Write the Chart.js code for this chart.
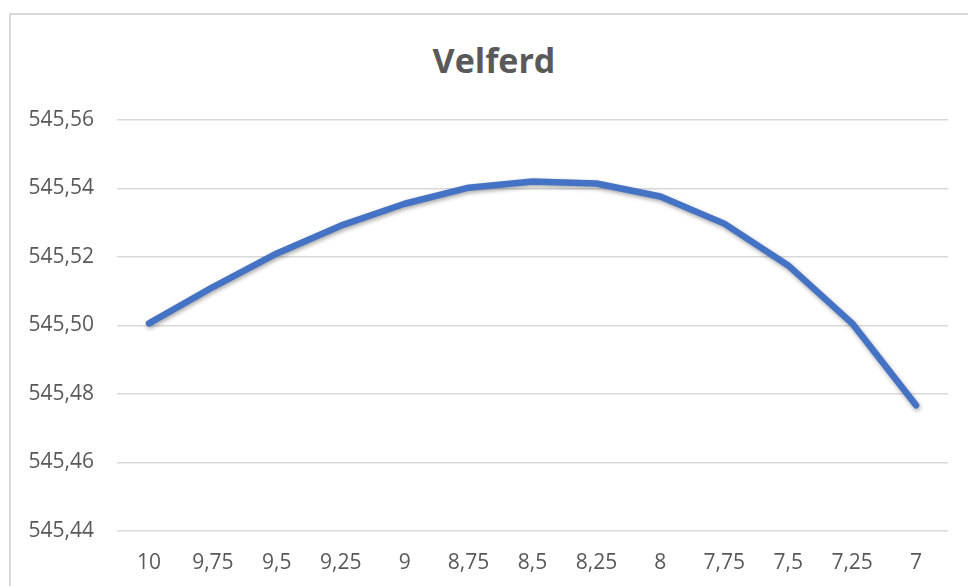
<!DOCTYPE html>
<html>
<head>
<meta charset="utf-8">
<script src="https://cdn.jsdelivr.net/npm/chart.js@4.4.1/dist/chart.umd.min.js"></script>
<style>
  html, body { margin: 0; padding: 0; background: #fff; overflow: hidden; }
  #frame {
    position: absolute; left: 9px; top: 13px; width: 1100px; height: 700px;
    border-left: 2px solid #d9d9d9; border-top: 2px solid #d9d9d9;
  }
  #wrap { position: absolute; left: 0; top: 0; width: 968px; height: 586px; }
  #title {
    position: absolute; left: 344px; top: 40px; width: 300px; text-align: center;
    font: bold 34px/40.8px 'Open Sans', sans-serif; color: #595959;
  }
</style>
</head>
<body>
<div id="frame"></div>
<div id="title">Velferd</div>
<div id="wrap"><canvas id="velferdChart"></canvas></div>
<script>
// Data
const categories = ['10', '9,75', '9,5', '9,25', '9', '8,75', '8,5', '8,25', '8', '7,75', '7,5', '7,25', '7'];
const velferd = [545.5006, 545.5112, 545.5210, 545.5291, 545.5355, 545.5402, 545.5420, 545.5414, 545.5376, 545.5297, 545.5175, 545.5006, 545.4767];
const yMin = 545.44;
const yMax = 545.56;
const yStep = 0.02;

const textColor = '#595959';
const gridColor = '#d9d9d9';

// soft shadow under the line, like the original
const lineShadow = {
  id: 'lineShadow',
  beforeDatasetDraw(chart) {
    const c = chart.ctx;
    c.save();
    c.shadowColor = 'rgba(0,0,0,0.35)';
    c.shadowBlur = 4;
    c.shadowOffsetX = 1;
    c.shadowOffsetY = 2;
  },
  afterDatasetDraw(chart) {
    chart.ctx.restore();
  }
};

const ctx = document.getElementById('velferdChart').getContext('2d');

let velferdChart = new Chart(ctx, {
  type: 'line',
  data: {
    labels: categories,
    datasets: [{
      label: 'Velferd',
      data: velferd,
      borderColor: '#4472c4',
      borderWidth: 6.5,
      borderCapStyle: 'round',
      borderJoinStyle: 'round',
      tension: 0,
      pointRadius: 0,
      fill: false
    }]
  },
  options: {
    responsive: true,
    maintainAspectRatio: false,
    animation: false,
    layout: { padding: { left: 16, right: 20, top: 119.8, bottom: 0 } },
    plugins: {
      legend: { display: false },
      tooltip: { enabled: false },
      title: { display: false }
    },
    scales: {
      x: {
        offset: true,
        grid: { display: false },
        border: { display: false },
        ticks: {
          color: textColor,
          padding: 11,
          maxRotation: 0,
          autoSkip: false,
          font: { family: 'Open Sans', size: 21 }
        },
        afterFit: scale => { scale.height = 55; }
      },
      y: {
        min: yMin,
        max: yMax,
        border: { display: false },
        grid: { color: gridColor, lineWidth: 1.5, drawTicks: false },
        ticks: {
          stepSize: yStep,
          color: textColor,
          padding: 23,
          font: { family: 'Open Sans', size: 21 },
          callback: v => v.toFixed(2).replace('.', ',')
        },
        afterFit: scale => { scale.width = 101; }
      }
    }
  },
  plugins: [lineShadow]
});
</script>
</body>
</html>
